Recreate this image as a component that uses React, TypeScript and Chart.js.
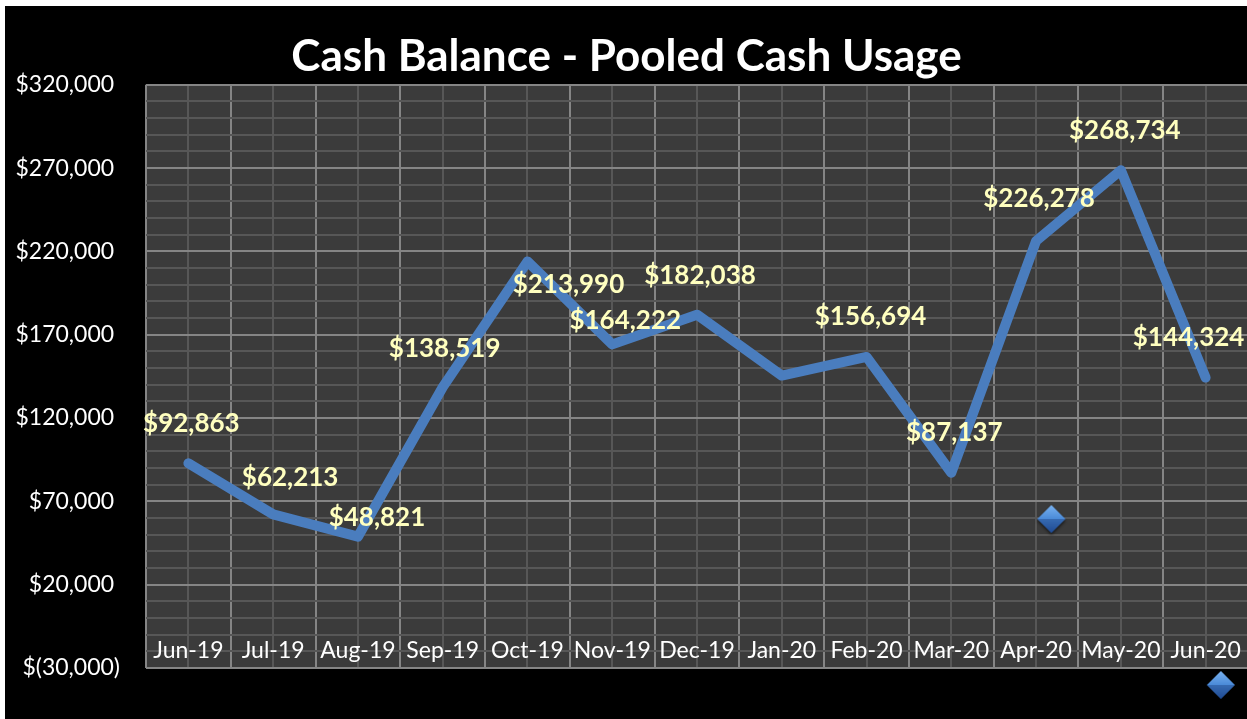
import React, { useEffect, useRef } from 'react';
import { Chart, registerables } from 'chart.js';

Chart.register(...registerables);

// ---- data ----
const months = ['Jun-19', 'Jul-19', 'Aug-19', 'Sep-19', 'Oct-19', 'Nov-19', 'Dec-19', 'Jan-20', 'Feb-20', 'Mar-20', 'Apr-20', 'May-20', 'Jun-20'];
const cashBalance = [92863, 62213, 48821, 138519, 213990, 164222, 182038, 145500, 156694, 87137, 226278, 268734, 144324];
const showValueLabel = [true, true, true, true, true, true, true, false, true, true, true, true, true];
const markerX = [10.18, 12.18];
const markerY = [59450, -40200];

const yMin = -30000;
const yMax = 320000;
const yMinorStep = 10000;
const yMajorStep = 50000;

// label offsets (dx, dy) in pixels relative to each point
const labelOffsets: [number, number][] = [
  [3, -40], [17, -37], [19, -19], [2, -39], [41, 23], [13, -24], [3, -39],
  [0, -40], [4, -40], [3, -40], [3, -42], [4, -40], [-17, -40],
];

const FONT = 'Lato, "Open Sans", sans-serif';

function fmtMoney(v: number): string {
  const s = Math.abs(v).toLocaleString('en-US');
  return v < 0 ? `$(${s})` : `$${s}`;
}

function makeDiamond(): HTMLCanvasElement {
  const c = document.createElement('canvas');
  const s = 34;
  c.width = s;
  c.height = s;
  const g = c.getContext('2d')!;
  const cx = s / 2, cy = s / 2, r = 14;
  g.save();
  g.shadowColor = 'rgba(0,0,0,0.6)';
  g.shadowBlur = 3;
  g.shadowOffsetY = 2;
  g.beginPath();
  g.moveTo(cx, cy - r);
  g.lineTo(cx + r, cy);
  g.lineTo(cx, cy + r);
  g.lineTo(cx - r, cy);
  g.closePath();
  const grad = g.createLinearGradient(0, cy - r, 0, cy + r);
  grad.addColorStop(0, '#79b2f0');
  grad.addColorStop(0.5, '#4a8ad8');
  grad.addColorStop(1, '#2558a6');
  g.fillStyle = grad;
  g.fill();
  g.restore();
  g.beginPath();
  g.moveTo(cx - r, cy);
  g.lineTo(cx + r, cy);
  g.lineTo(cx, cy + r);
  g.closePath();
  g.fillStyle = 'rgba(20,50,110,0.35)';
  g.fill();
  return c;
}

const backgroundPlugin = {
  id: 'bgPlugin',
  beforeDraw(chart: any) {
    const { ctx, chartArea } = chart;
    ctx.save();
    ctx.fillStyle = '#000000';
    ctx.fillRect(0, 0, chart.width, chart.height);
    ctx.fillStyle = '#3b3b3b';
    ctx.fillRect(chartArea.left, chartArea.top, chartArea.right - chartArea.left, chartArea.bottom - chartArea.top);
    ctx.restore();
  },
};

const categoryLabelPlugin = {
  id: 'categoryLabels',
  beforeDatasetsDraw(chart: any) {
    const { ctx } = chart;
    const xs = chart.scales.x;
    const ys = chart.scales.y;
    const labels: string[] = chart.data.labels;
    const yPix = ys.getPixelForValue(-20000) - 1;
    ctx.save();
    ctx.fillStyle = '#ffffff';
    ctx.font = `23px ${FONT}`;
    ctx.textAlign = 'center';
    ctx.textBaseline = 'middle';
    labels.forEach((lab, i) => {
      ctx.fillText(lab, xs.getPixelForValue(i), yPix);
    });
    ctx.restore();
  },
};

const valueLabelPlugin = {
  id: 'valueLabels',
  afterDatasetsDraw(chart: any) {
    const { ctx } = chart;
    const meta = chart.getDatasetMeta(0);
    const data: number[] = chart.data.datasets[0].data;
    ctx.save();
    ctx.fillStyle = '#ffffbf';
    ctx.font = `bold 26px ${FONT}`;
    ctx.textAlign = 'center';
    ctx.textBaseline = 'middle';
    meta.data.forEach((pt: any, i: number) => {
      if (!showValueLabel[i]) return;
      const [dx, dy] = labelOffsets[i];
      ctx.fillText(fmtMoney(data[i]), pt.x + dx, pt.y + dy);
    });
    ctx.restore();
  },
};

export default function App() {
  const canvasRef = useRef<HTMLCanvasElement | null>(null);

  useEffect(() => {
    document.body.style.margin = '0';
    document.body.style.overflow = 'hidden';
    const canvas = canvasRef.current!;
    const diamond = makeDiamond();
    const chart = new Chart(canvas, {
      type: 'line',
      data: {
        labels: months,
        datasets: [
          {
            label: 'Cash Balance',
            data: cashBalance,
            xAxisID: 'x',
            yAxisID: 'y',
            borderColor: '#4a7dbe',
            borderWidth: 10,
            borderJoinStyle: 'round',
            borderCapStyle: 'round',
            pointRadius: 0,
            tension: 0,
            fill: false,
          },
          {
            label: 'Markers',
            data: markerX.map((x, i) => ({ x, y: markerY[i] })),
            xAxisID: 'x2',
            yAxisID: 'y',
            showLine: false,
            pointStyle: diamond as any,
            pointRadius: 14,
            pointHoverRadius: 14,
            pointBorderWidth: 12,
            clip: false as any,
          },
        ],
      },
      options: {
        responsive: false,
        animation: false,
        devicePixelRatio: 1,
        layout: { autoPadding: false, padding: { left: 0, right: 2, top: 0, bottom: 51 } },
        plugins: {
          legend: { display: false },
          tooltip: { enabled: false },
          title: {
            display: true,
            text: 'Cash Balance - Pooled Cash Usage',
            color: '#ffffff',
            font: { family: FONT, size: 44, weight: 'bold', lineHeight: 1.2 },
            padding: { top: 24, bottom: 2 },
          },
        },
        scales: {
          x: {
            type: 'category',
            display: false,
            offset: true,
          },
          x2: {
            type: 'linear',
            position: 'bottom',
            min: -0.5,
            max: months.length - 0.5,
            ticks: { display: false, stepSize: 0.5 },
            border: { display: false },
            grid: {
              drawTicks: false,
              lineWidth: 2,
              color: (ctx: any) => {
                const v = ctx.tick ? ctx.tick.value : 0;
                return Math.abs(Math.abs(v % 1) - 0.5) < 1e-6 ? '#858585' : '#575757';
              },
            },
          },
          y: {
            type: 'linear',
            position: 'left',
            min: yMin,
            max: yMax,
            afterFit: (scale: any) => {
              scale.width = 141;
            },
            ticks: {
              stepSize: yMinorStep,
              autoSkip: false,
              padding: 26,
              color: '#ffffff',
              font: { family: FONT, size: 23 },
              callback: (value: any) => {
                const v = Number(value);
                if ((v - yMin) % yMajorStep !== 0) return '';
                return v < 0 ? fmtMoney(v) : fmtMoney(v) + ' ';
              },
            },
            border: { display: false },
            grid: {
              drawTicks: false,
              lineWidth: 2,
              color: (ctx: any) => {
                const v = ctx.tick ? ctx.tick.value : 0;
                return (v - yMin) % yMajorStep === 0 ? '#858585' : '#575757';
              },
            },
          },
        },
      } as any,
      plugins: [backgroundPlugin, categoryLabelPlugin, valueLabelPlugin],
    });
    return () => {
      chart.destroy();
    };
  }, []);

  return (
    <div style={{ position: 'fixed', left: 0, top: 0, width: 1247, height: 719, background: '#ffffff', overflow: 'hidden' }}>
      <div style={{ position: 'absolute', left: 5, top: 6, width: 1245, height: 713, background: '#000000' }}>
        <canvas ref={canvasRef} width={1245} height={713} style={{ width: 1245, height: 713, display: 'block' }} />
      </div>
    </div>
  );
}
